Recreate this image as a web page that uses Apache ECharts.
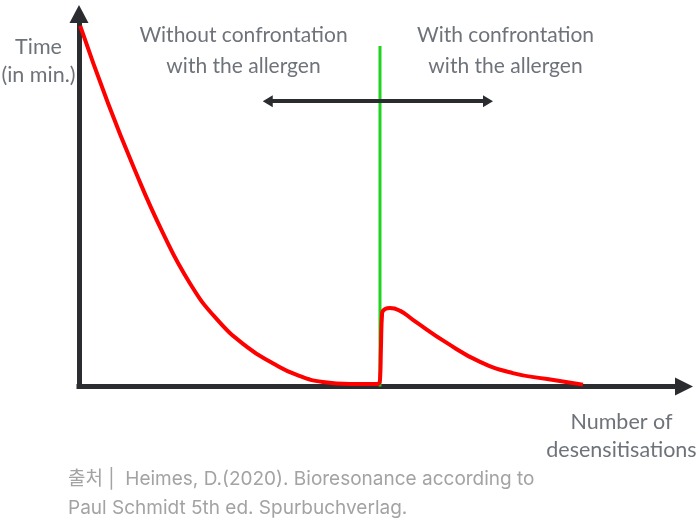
<!DOCTYPE html>
<html><head><meta charset="utf-8">
<script src="https://cdn.jsdelivr.net/npm/echarts@6/dist/echarts.min.js"></script>
<style>html,body{margin:0;padding:0;background:#fff}#c{width:698px;height:526px}</style>
</head><body><div id="c"></div>
<script>
// Reaction time curve (arbitrary units: x 0-100, y 0-100)
const curveX = [0.2, 4.6, 9.0, 13.9, 18.3, 22.7, 27.7, 32.1, 36.0, 40.3, 44.8, 49.3, 49.75, 49.9, 50.1, 50.6, 51.4, 53.1, 55.2, 60.8, 66.3, 71.7, 77.4, 83.3];
const curveY = [96.8, 76.9, 59.0, 41.1, 27.8, 18.2, 10.7, 6.2, 3.1, 1.2, 0.7, 0.7, 1.7, 9.8, 19.7, 20.8, 21.1, 20.3, 17.9, 11.7, 6.6, 3.6, 2.0, 0.5];
// Start of allergen confrontation (green marker)
const markerX = [49.75, 49.75];
const markerY = [0, 91.4];
// Double-headed arrow annotation
const arrowX = [31.2, 67.6];
const arrowY = [76.6, 76.6];
// Texts
const yAxisTitle = 'Time\n(in min.)';
const xAxisTitle = 'Number of\ndesensitisations';
const leftLabel = 'Without confrontation\nwith the allergen';
const rightLabel = 'With confrontation\nwith the allergen';
const sourceText = '출처 |  Heimes, D.(2020). Bioresonance according to\nPaul Schmidt 5th ed. Spurbuchverlag.';

const axisColor = '#2b2c30';
const labelColor = '#6e737a';
const labelFont = 'Lato';

const chart = echarts.init(document.getElementById('c'), null, {renderer: 'canvas'});
const axisCommon = {
  type: 'value', min: 0, max: 100,
  splitLine: {show: false}, axisTick: {show: false}, axisLabel: {show: false},
  axisLine: {show: true, onZero: false, lineStyle: {color: axisColor, width: 5, cap: 'square'}}
};
chart.setOption({
  animation: false,
  grid: {left: 79, right: 14, top: 14, bottom: 139.5},
  xAxis: Object.assign({}, axisCommon, {axisLine: Object.assign({}, axisCommon.axisLine, {symbol: ['none', 'triangle'], symbolSize: [18, 18]})}),
  yAxis: Object.assign({}, axisCommon, {axisLine: Object.assign({}, axisCommon.axisLine, {symbol: ['none', 'triangle'], symbolSize: [19, 18]})}),
  series: [
    {
      type: 'line', silent: true, showSymbol: false, symbol: 'none',
      data: [],
      markLine: {
        silent: true, symbol: ['triangle', 'triangle'], symbolSize: [12, 10],
        lineStyle: {color: axisColor, width: 4, type: 'solid'},
        label: {show: false},
        data: [[{coord: [arrowX[0], arrowY[0]]}, {coord: [arrowX[1], arrowY[1]]}]]
      }
    },
    {
      type: 'line', silent: true, symbol: 'none',
      data: markerX.map((x, i) => [x, markerY[i]]),
      lineStyle: {color: '#1fd31f', width: 3}
    },
    {
      type: 'line', silent: true, symbol: 'none', smooth: 0.5,
      data: curveX.map((x, i) => [x, curveY[i]]),
      lineStyle: {color: '#ff0000', width: 4}
    }
  ],
  graphic: [
    {type: 'text', x: 38.5, y: 61, style: {text: yAxisTitle, font: '21.5px ' + labelFont, fill: labelColor, align: 'center', verticalAlign: 'middle', lineHeight: 28}},
    {type: 'text', x: 243.5, y: 50.5, style: {text: leftLabel, font: '21px ' + labelFont, fill: labelColor, align: 'center', verticalAlign: 'middle', lineHeight: 31}},
    {type: 'text', x: 505.5, y: 50.5, style: {text: rightLabel, font: '21px ' + labelFont, fill: labelColor, align: 'center', verticalAlign: 'middle', lineHeight: 31}},
    {type: 'text', x: 621.5, y: 436, style: {text: xAxisTitle, font: '21.5px ' + labelFont, fill: labelColor, align: 'center', verticalAlign: 'middle', lineHeight: 28}},
    {type: 'text', x: 68, y: 493.5, style: {text: sourceText, font: '19px Inter, "Noto Sans CJK KR"', fill: '#a3a3a3', align: 'left', verticalAlign: 'middle', lineHeight: 29}}
  ]
});
</script></body></html>
